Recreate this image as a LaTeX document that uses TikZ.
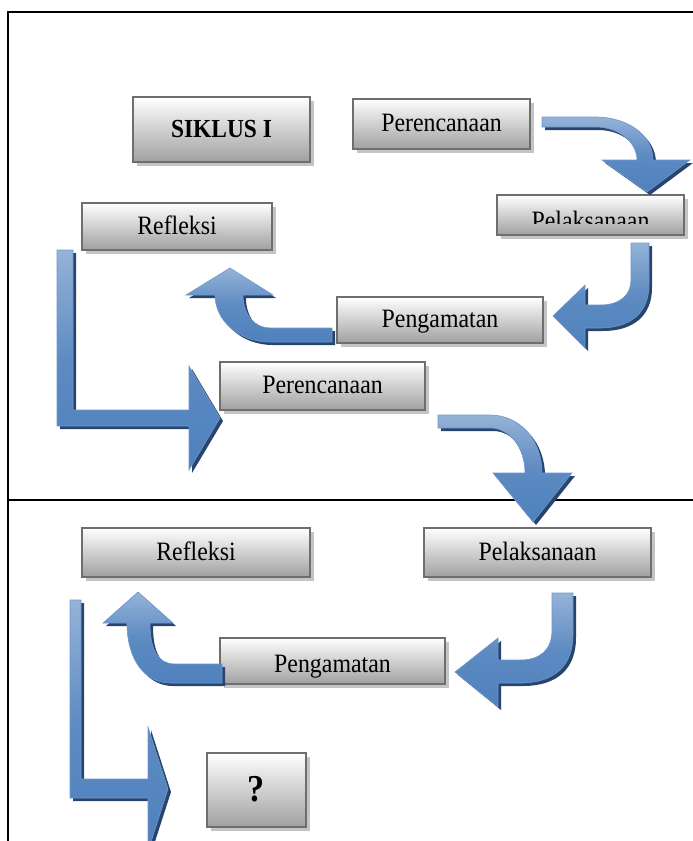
\documentclass[tikz,border=0pt]{standalone}
\usepackage{fontspec}
\setmainfont{Liberation Serif}[FakeStretch=0.9]
\usetikzlibrary{shadows}

\definecolor{boxline}{HTML}{6E6E6E}
\definecolor{boxgray}{HTML}{A0A0A0}
\definecolor{boxshade}{HTML}{C4C4C4}
\definecolor{arrowlight}{HTML}{95B3D7}
\definecolor{arrowbase}{HTML}{4F81BD}
\definecolor{arrowedge}{HTML}{6F97CC}
\definecolor{arrowshade}{HTML}{28456E}

\tikzset{
  stage/.style={draw=boxline, line width=1.4pt, top color=white, bottom color=boxgray,
    drop shadow={shadow xshift=4pt, shadow yshift=-4pt, fill=boxshade, opacity=1},
    inner sep=0pt, font=\fontsize{26.5}{30}\selectfont, text depth=2pt},
  blockarrow/.style={draw=arrowedge, line width=0.6pt, top color=arrowlight, bottom color=arrowbase,
    middle color=arrowbase!80!arrowlight,
    drop shadow={shadow xshift=3pt, shadow yshift=-3pt, fill=arrowshade, opacity=1}},
  frameline/.style={line width=1.6pt}
}

\begin{document}
\begin{tikzpicture}[x=1pt,y=-1pt]
    \useasboundingbox (0,0) rectangle (693,841);
    \clip (0,0) rectangle (693,841);

    % table lines
    \draw[frameline] (8,841) -- (8,12) -- (693,12);
    \draw[frameline] (8,500) -- (693,500);

    % siklus I
    \node[stage, minimum width=177, minimum height=65, font=\fontsize{26}{30}\selectfont\bfseries] (siklus) at (221.5,129.5) {SIKLUS I};
    \node[stage, minimum width=177, minimum height=50] (rencana1) at (441.5,124) {Perencanaan};
    \node[stage, minimum width=187, minimum height=40] (laksana1) at (590.5,215) {};
    \node[stage, minimum width=190, minimum height=47] (refleksi1) at (177,226.5) {Refleksi};
    \node[stage, minimum width=206, minimum height=46] (amat1) at (440,320) {Pengamatan};
    \node[stage, minimum width=205, minimum height=48] (rencana2) at (322.5,386) {Perencanaan};

    \begin{scope}
        \clip (laksana1.north west) rectangle ([yshift=12pt]laksana1.south east);
        \node[anchor=base, font=\fontsize{26.5}{30}\selectfont] (laksana1txt) at (590.5,229) {Pelaksanaan};
    \end{scope}

    % siklus II
    \node[stage, minimum width=228, minimum height=49] (refleksi2) at (196,552.5) {Refleksi};
    \node[stage, minimum width=227, minimum height=49] (laksana2) at (537.5,552.5) {Pelaksanaan};
    \node[stage, minimum width=225, minimum height=46] (amat2) at (332.5,661) {};
    \node[stage, minimum width=99, minimum height=74, font=\fontsize{38}{42}\selectfont\bfseries] (tanya) at (256.5,790) {?};

    \begin{scope}
        \clip (amat2.north west) rectangle ([yshift=2pt]amat2.south east);
        \node[anchor=base, font=\fontsize{26.5}{30}\selectfont] (amat2txt) at (332.5,672) {Pengamatan};
    \end{scope}

    % arrows siklus I
    \path[blockarrow] (542,117) -- (595,117) .. controls (628,117) and (653,135) .. (653,160)
        -- (690,160) -- (647,192) -- (602,160) -- (637,160) .. controls (637,143) and (620,127) .. (595,127)
        -- (542,127) -- cycle;
    \path[blockarrow] (631,243) -- (649,243) -- (649,285) .. controls (649,313) and (630,328) .. (600,328)
        -- (585,328) -- (585,348) -- (553,316) -- (585,285) -- (585,305) -- (600,305)
        .. controls (620,305) and (631,295) .. (631,280) -- cycle;
    \path[blockarrow] (332,328) -- (332,342) -- (270,342) .. controls (238,342) and (215,320) .. (215,295)
        -- (186,295) -- (230,268) -- (273,295) -- (243,295) .. controls (243,315) and (255,328) .. (270,328)
        -- cycle;
    \path[blockarrow] (57,250) -- (73,250) -- (73,410) -- (189,410) -- (189,366) -- (220,418)
        -- (189,470) -- (189,426) -- (57,426) -- cycle;
    \path[blockarrow] (438,415) -- (490,415) .. controls (520,415) and (542,440) .. (542,473)
        -- (572,473) -- (533,522) -- (493,473) -- (525,473) .. controls (525,448) and (510,428) .. (490,428)
        -- (438,428) -- cycle;

    % arrows siklus II
    \path[blockarrow] (552,593) -- (573,593) -- (573,635) .. controls (573,665) and (555,683) .. (520,683)
        -- (498,683) -- (498,707) -- (455,672) -- (498,638) -- (498,660) -- (520,660)
        .. controls (540,660) and (552,650) .. (552,630) -- cycle;
    \path[blockarrow] (222,664) -- (222,683) -- (170,683) .. controls (145,683) and (127,660) .. (127,623)
        -- (103,623) -- (138,592) -- (173,623) -- (150,623) .. controls (150,650) and (158,664) .. (175,664)
        -- cycle;
    \path[blockarrow] (70,600) -- (81,600) -- (81,779) -- (148,779) -- (148,727) -- (168,789)
        -- (148,851) -- (148,798) -- (70,798) -- cycle;
\end{tikzpicture}
\end{document}
